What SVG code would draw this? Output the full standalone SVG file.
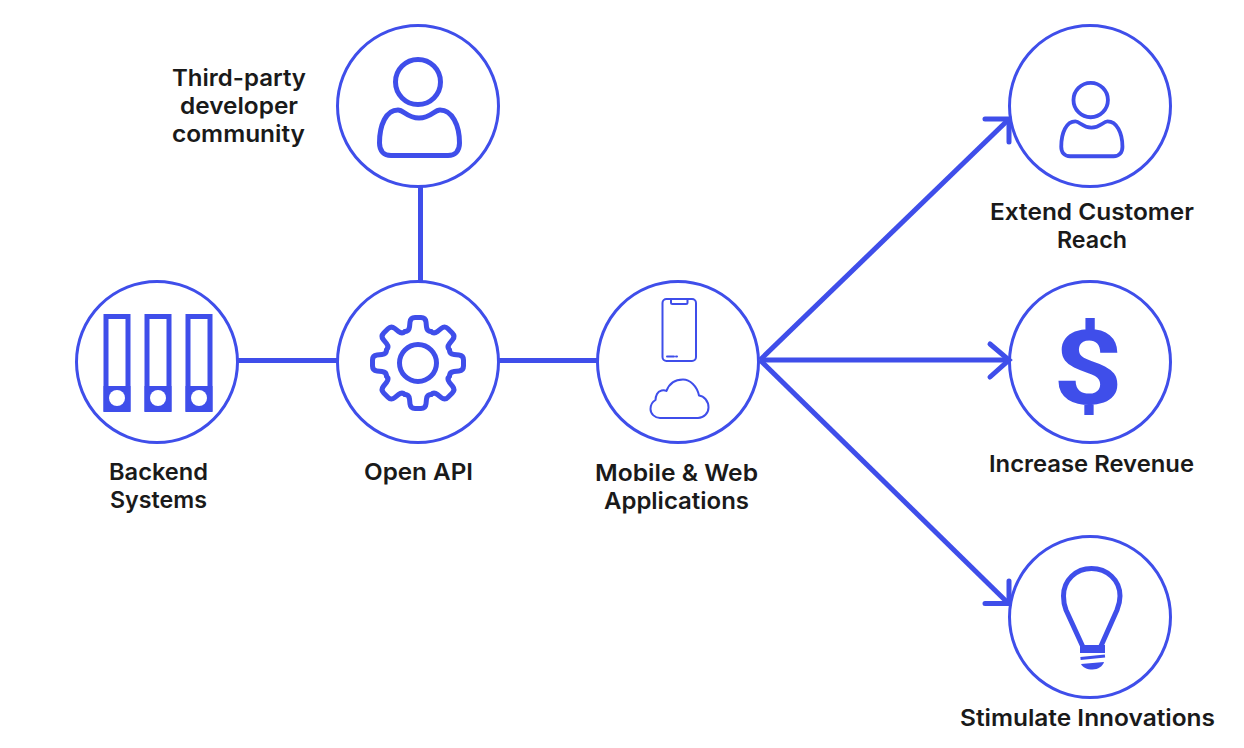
<svg xmlns="http://www.w3.org/2000/svg" width="1244" height="748" viewBox="0 0 1244 748">
<style>
.ring{fill:#fff;stroke:#3f4eea;stroke-width:3}
.ico{fill:none;stroke:#3f4eea;stroke-width:5;stroke-linecap:round;stroke-linejoin:round}
.thin{fill:none;stroke:#3f4eea;stroke-width:2;stroke-linecap:round;stroke-linejoin:round}
.fill{fill:#3f4eea}
.hole{fill:#fff}
.con{fill:none;stroke:#3f4eea;stroke-width:5}
.head{fill:none;stroke:#3f4eea;stroke-width:5;stroke-linecap:round;stroke-linejoin:miter}
text{font-family:"Inter","Liberation Sans",sans-serif;font-size:23px;font-weight:600;fill:#1a1a1a;text-anchor:middle}
</style>
<defs>
<g id="person">
<circle cx="418" cy="82" r="22.5"/>
<path d="M398 110C404 110 407 118 419 118C431 118 434 110 440 110C452 110 459.500 125 459.500 143C459.500 151 455 155.500 448 155.500L391 155.500C384 155.500 379.500 151 379.500 143C379.500 125 386 110 398 110Z"/>
</g>
<path id="tooth" d="M-13 -31.500Q-9 -31.500 -8.500 -36L-8 -41Q-7.500 -45.500 -3 -45.500L3 -45.500Q7.500 -45.500 8 -41L8.500 -36Q9 -31.500 13 -31.500"/>
</defs>
<g id="node-developer">
<circle class="ring" cx="418" cy="106" r="80.500"/>
<use href="#person" class="ico"/>
<text x="239" y="86" textLength="134" lengthAdjust="spacingAndGlyphs">Third-party</text>
<text x="239" y="114" textLength="118" lengthAdjust="spacingAndGlyphs">developer</text>
<text x="238.500" y="142" textLength="133" lengthAdjust="spacingAndGlyphs">community</text>
</g>
<g id="node-backend">
<circle class="ring" cx="157" cy="362" r="80.500"/>
<rect class="fill" x="103.500" y="386" width="27" height="26"/>
<rect class="fill" x="144.500" y="386" width="27" height="26"/>
<rect class="fill" x="185.500" y="386" width="27" height="26"/>
<path class="con" d="M106 316.500H128V409H106ZM147 316.500H169V409H147ZM188 316.500H210V409H188Z"/>
<circle class="hole" cx="117" cy="398" r="8"/>
<circle class="hole" cx="158" cy="398" r="8"/>
<circle class="hole" cx="199" cy="398" r="8"/>
<text x="158.500" y="480" textLength="99" lengthAdjust="spacingAndGlyphs">Backend</text>
<text x="158.500" y="508" textLength="97" lengthAdjust="spacingAndGlyphs">Systems</text>
</g>
<g id="node-openapi">
<circle class="ring" cx="418" cy="362" r="80.500"/>
<g class="ico" transform="translate(418 363)">
<circle r="18.500"/>
<use href="#tooth"/><use href="#tooth" transform="rotate(45)"/><use href="#tooth" transform="rotate(90)"/><use href="#tooth" transform="rotate(135)"/><use href="#tooth" transform="rotate(180)"/><use href="#tooth" transform="rotate(225)"/><use href="#tooth" transform="rotate(270)"/><use href="#tooth" transform="rotate(315)"/>
</g>
<text x="418.500" y="480" textLength="109" lengthAdjust="spacingAndGlyphs">Open API</text>
</g>
<g id="node-mobile">
<circle class="ring" cx="678" cy="362" r="80.500"/>
<rect class="thin" x="662.500" y="299" width="33.500" height="62" rx="4"/>
<path class="thin" d="M671 299.500V302.500Q671 304 672.500 304H686Q687.500 304 687.500 302.500V299.500"/>
<path class="thin" d="M667 356.500H674M676 356.500H677"/>
<path class="thin" d="M660 418H698C704 418 708.500 413 708.500 407.500C708.500 401 704 396 699 395.500C697 386 690 379.500 683 379.500C675 379.500 669 384 666.500 391C664 389.500 659 390 657 394C656 396 655.500 398 655.500 400C652 402 650.500 405 650.500 409C650.500 414 655 418 660 418Z"/>
<text x="676.500" y="481" textLength="163" lengthAdjust="spacingAndGlyphs">Mobile &amp; Web</text>
<text x="676.500" y="509" textLength="145" lengthAdjust="spacingAndGlyphs">Applications</text>
</g>
<g id="node-reach">
<circle class="ring" cx="1090" cy="106" r="80.500"/>
<use href="#person" class="ico" transform="translate(1090.700 100) scale(.765) translate(-418 -82)"/>
<text x="1092" y="220" textLength="204" lengthAdjust="spacingAndGlyphs">Extend Customer</text>
<text x="1092" y="248" textLength="70" lengthAdjust="spacingAndGlyphs">Reach</text>
</g>
<g id="node-revenue">
<circle class="ring" cx="1090" cy="362" r="80.500"/>
<text x="1088" y="404" textLength="70" lengthAdjust="spacingAndGlyphs" style="font-family:Roboto,'Liberation Sans',sans-serif;font-size:104px;font-weight:700;fill:#3f4eea">$</text>
<text x="1091.500" y="472" textLength="205" lengthAdjust="spacingAndGlyphs">Increase Revenue</text>
</g>
<g id="node-innovation">
<circle class="ring" cx="1090" cy="617" r="80.500"/>
<path class="ico" d="M1082.500 646L1066 610C1064 605 1063.500 601 1063.500 596C1063.500 580 1076 568.500 1091.500 568.500C1107 568.500 1120 580 1120 596C1120 601 1119 605 1117 610L1101 646"/>
<rect class="fill" x="1080" y="645" width="25" height="8"/>
<path d="M1080.500 658.500L1105 656" fill="none" stroke="#3f4eea" stroke-width="3"/>
<path class="fill" d="M1081 664L1104 662C1103 666 1098 669.500 1092.500 669.500C1087 669.500 1082.500 667.500 1081 664Z"/>
<text x="1087.500" y="726" textLength="255" lengthAdjust="spacingAndGlyphs">Stimulate Innovations</text>
</g>
<g id="connectors">
<path class="con" d="M420.500 187V282"/>
<path class="con" d="M238 360.500H337"/>
<path class="con" d="M498 360.500H598"/>
<path class="con" d="M760 360L1008 120"/>
<path class="con" d="M760 360H1008"/>
<path class="con" d="M760 360L1008 603"/>
<path class="head" d="M985 119H1009V142"/>
<path class="head" d="M990 344L1009 360L990 377"/>
<path class="head" d="M985 603.500H1009V581"/>
</g>
</svg>
